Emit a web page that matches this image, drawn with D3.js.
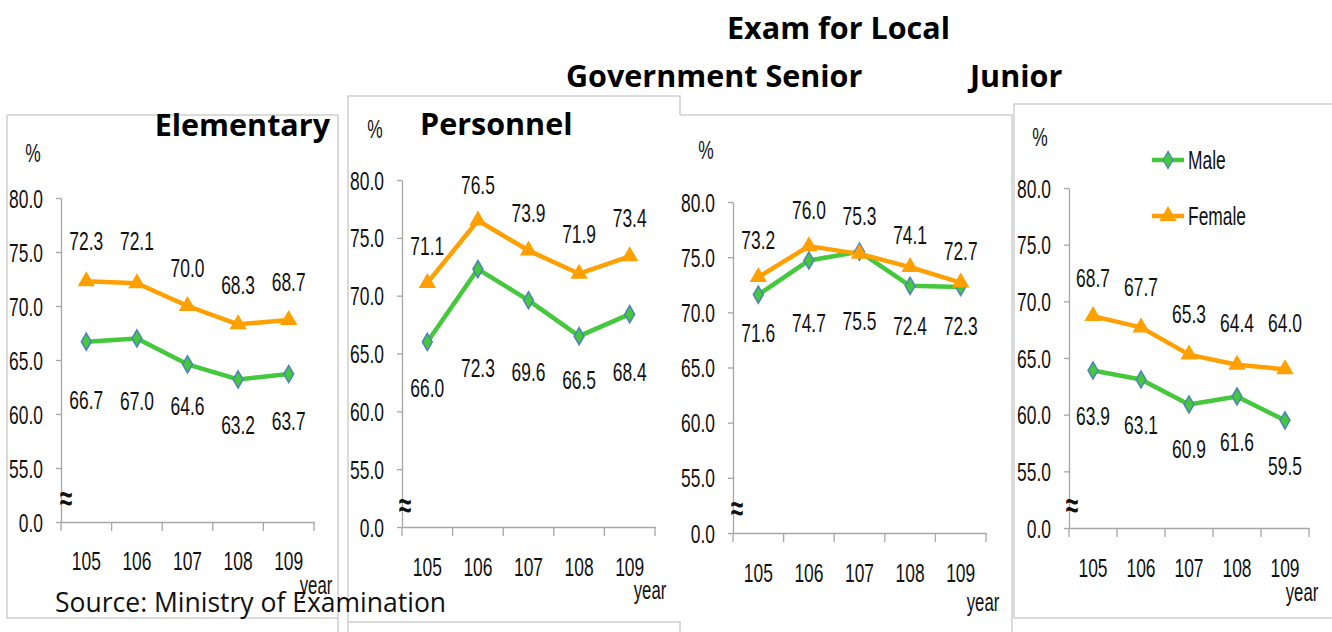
<!DOCTYPE html>
<html>
<head>
<meta charset="utf-8">
<script src="https://cdn.jsdelivr.net/npm/d3@7"></script>
<style>
  body { margin: 0; background: #fff; }
  svg { display: block; }
  .cond { font-family: "Liberation Sans", Arial, sans-serif; fill: #111; }
  .title { font-family: "Open Sans", "Noto Sans", sans-serif; font-weight: 700; font-size: 30.5px; fill: #000; }
  .source { font-family: "Open Sans", "Noto Sans", sans-serif; font-size: 26.5px; fill: #111; }
</style>
</head>
<body>
<div id="chart"></div>
<script>
// data
const years = ['105', '106', '107', '108', '109'];
const yTicks = [50, 55, 60, 65, 70, 75, 80];   // 50 is drawn as the broken "0.0" tick
const seriesNames = ['Male', 'Female'];

const maleElementary = [66.7, 67.0, 64.6, 63.2, 63.7];
const femaleElementary = [72.3, 72.1, 70.0, 68.3, 68.7];
const malePersonnel = [66.0, 72.3, 69.6, 66.5, 68.4];
const femalePersonnel = [71.1, 76.5, 73.9, 71.9, 73.4];
const maleLocalSenior = [71.6, 74.7, 75.5, 72.4, 72.3];
const femaleLocalSenior = [73.2, 76.0, 75.3, 74.1, 72.7];
const maleJunior = [63.9, 63.1, 60.9, 61.6, 59.5];
const femaleJunior = [68.7, 67.7, 65.3, 64.4, 64.0];

const W = 1332, H = 632;
const SX = 0.67;               // horizontal squeeze for the narrow label font
const FS = 26;
const MALE = '#44c83c', MALE_EDGE = '#4f81bd', FEMALE = '#ffa000';

// layout of each panel (pixels)
const panels = [
  { male: maleElementary, female: femaleElementary,
    x0: 61, x1: 314, yTop: 198, yBot: 522, xLabY: 561, pct: [33, 153], yearPos: [316, 585], brk: [66, 498],
    fDy: [-40, -42, -38, -39, -38], mDy: [58, 62, 42, 45, 47] },
  { male: malePersonnel, female: femalePersonnel,
    x0: 402, x1: 655, yTop: 180, yBot: 527, xLabY: 567, pct: [375, 129], yearPos: [650, 590], brk: [405, 505],
    fDy: [-37, -36, -38, -40, -38], mDy: [46, 99, 72, 44, 58] },
  { male: maleLocalSenior, female: femaleLocalSenior,
    x0: 733, x1: 986, yTop: 202, yBot: 533, xLabY: 573, pct: [706, 150], yearPos: [983, 602], brk: [737, 508],
    fDy: [-37, -36, -38, -32, -32], mDy: [38, 62, 69, 40, 39] },
  { male: maleJunior, female: femaleJunior,
    x0: 1069, x1: 1309, yTop: 188, yBot: 528, xLabY: 568, pct: [1040, 137], yearPos: [1302, 592], brk: [1072, 505],
    fDy: [-38, -41, -41, -42, -46], mDy: [45, 45, 44, 45, 46], legend: [1152, 160, 56] }
];

const svg = d3.select('#chart').append('svg')
  .attr('width', W).attr('height', H)
  .style('background', '#fff');

function condText(g, x, y, txt, anchor = 'middle', size = FS) {
  return g.append('text')
    .attr('class', 'cond')
    .attr('transform', `translate(${x},${y}) scale(${SX},1)`)
    .attr('text-anchor', anchor)
    .attr('dy', '0.35em')
    .style('font-size', size + 'px')
    .text(txt);
}

// panel frames (they overlap like pasted pictures)
const frame = svg.append('g')
  .attr('fill', 'none').attr('stroke', '#cfcfcf').attr('stroke-width', 1.5);
frame.append('path').attr('d', 'M7,115 H338 V632 M7,115 V618 H338');
frame.append('path').attr('d', 'M348,632 V96 H680 V115 M348,622 H680 V632');
frame.append('path').attr('d', 'M680,115 H1012 V632');
frame.append('path').attr('d', 'M1014,618 V104 H1332 M1014,618 H1332');

const diamond = d3.symbol().type(d3.symbolDiamond).size(85);
const triangle = d3.symbol().type(d3.symbolTriangle).size(130);

panels.forEach(p => {
  const g = svg.append('g');
  const x = d3.scaleBand().domain(years).range([p.x0, p.x1]);
  const y = d3.scaleLinear().domain([50, 80]).range([p.yBot, p.yTop]);
  const cx = i => x(years[i]) + x.bandwidth() / 2;

  // y axis
  const ya = g.append('g')
    .attr('transform', `translate(${p.x0},0)`)
    .call(d3.axisLeft(y).tickValues(yTicks).tickSize(5).tickSizeOuter(0)
      .tickFormat(d => d === 50 ? '0.0' : d3.format('.1f')(d)));
  ya.select('.domain').attr('stroke', '#a6a6a6').attr('stroke-width', 1.3);
  ya.selectAll('.tick line').attr('stroke', '#a6a6a6').attr('stroke-width', 1.3);
  ya.selectAll('.tick text')
    .attr('x', null).attr('dy', '0.35em')
    .attr('transform', `translate(-18,0) scale(${SX},1)`)
    .attr('class', 'cond').attr('fill', '#111')
    .style('font-size', FS + 'px');

  // x axis, ticks between categories
  const xa = g.append('g')
    .attr('transform', `translate(0,${p.yBot})`)
    .call(d3.axisBottom(x).tickSize(0).tickSizeOuter(0));
  xa.select('.domain').attr('stroke', '#a6a6a6').attr('stroke-width', 1.3);
  xa.selectAll('.tick text')
    .attr('y', null).attr('dy', '0.35em')
    .attr('transform', `translate(0,${p.xLabY - p.yBot}) scale(${SX},1)`)
    .attr('class', 'cond').attr('fill', '#111')
    .style('font-size', FS + 'px');
  xa.selectAll('.bound')
    .data(years.map(d => x(d)).concat([x.range()[1]]))
    .join('line')
    .attr('class', 'bound')
    .attr('x1', d => d).attr('x2', d => d)
    .attr('y1', 0).attr('y2', 9)
    .attr('stroke', '#a6a6a6').attr('stroke-width', 1.3);

  condText(g, p.pct[0], p.pct[1], '%');
  condText(g, p.yearPos[0], p.yearPos[1], 'year', 'middle', 25);
  condText(g, p.brk[0], p.brk[1], '≈', 'middle', 34).style('font-weight', 700);

  const line = d3.line().x((d, i) => cx(i)).y(d => y(d));

  g.append('path').datum(p.male)
    .attr('d', line).attr('fill', 'none')
    .attr('stroke', MALE).attr('stroke-width', 4.5).attr('stroke-linejoin', 'round');
  g.append('path').datum(p.female)
    .attr('d', line).attr('fill', 'none')
    .attr('stroke', FEMALE).attr('stroke-width', 4.5).attr('stroke-linejoin', 'round');

  g.selectAll('.mk-m').data(p.male).join('path')
    .attr('class', 'mk-m')
    .attr('transform', (d, i) => `translate(${cx(i)},${y(d)})`)
    .attr('d', diamond)
    .attr('fill', MALE).attr('stroke', MALE_EDGE).attr('stroke-width', 1.5);
  g.selectAll('.mk-f').data(p.female).join('path')
    .attr('class', 'mk-f')
    .attr('transform', (d, i) => `translate(${cx(i)},${y(d)})`)
    .attr('d', triangle)
    .attr('fill', FEMALE);

  p.female.forEach((v, i) => condText(g, cx(i), y(v) + p.fDy[i], d3.format('.1f')(v)));
  p.male.forEach((v, i) => condText(g, cx(i), y(v) + p.mDy[i], d3.format('.1f')(v)));

  if (p.legend) {
    const [lx, ly, gap] = p.legend;
    seriesNames.forEach((name, k) => {
      const yy = ly + k * gap;
      const col = k === 0 ? MALE : FEMALE;
      g.append('line').attr('x1', lx).attr('x2', lx + 32).attr('y1', yy).attr('y2', yy)
        .attr('stroke', col).attr('stroke-width', 4.5);
      g.append('path')
        .attr('transform', `translate(${lx + 16},${yy})`)
        .attr('d', k === 0 ? diamond : triangle)
        .attr('fill', col)
        .attr('stroke', k === 0 ? MALE_EDGE : 'none').attr('stroke-width', 1.2);
      condText(g, lx + 36, yy, name, 'start');
    });
  }
});

// titles
const titles = svg.append('g').attr('class', 'title');
titles.append('text').attr('x', 330).attr('y', 136).attr('text-anchor', 'end').text('Elementary');
titles.append('text').attr('x', 420).attr('y', 135).text('Personnel');
titles.append('text').attr('x', 727).attr('y', 39).text('Exam for Local');
titles.append('text').attr('x', 566).attr('y', 87).text('Government Senior');
titles.append('text').attr('x', 970).attr('y', 87).text('Junior');

svg.append('text').attr('class', 'source')
  .attr('x', 55).attr('y', 612)
  .text('Source: Ministry of Examination');
</script>
</body>
</html>
